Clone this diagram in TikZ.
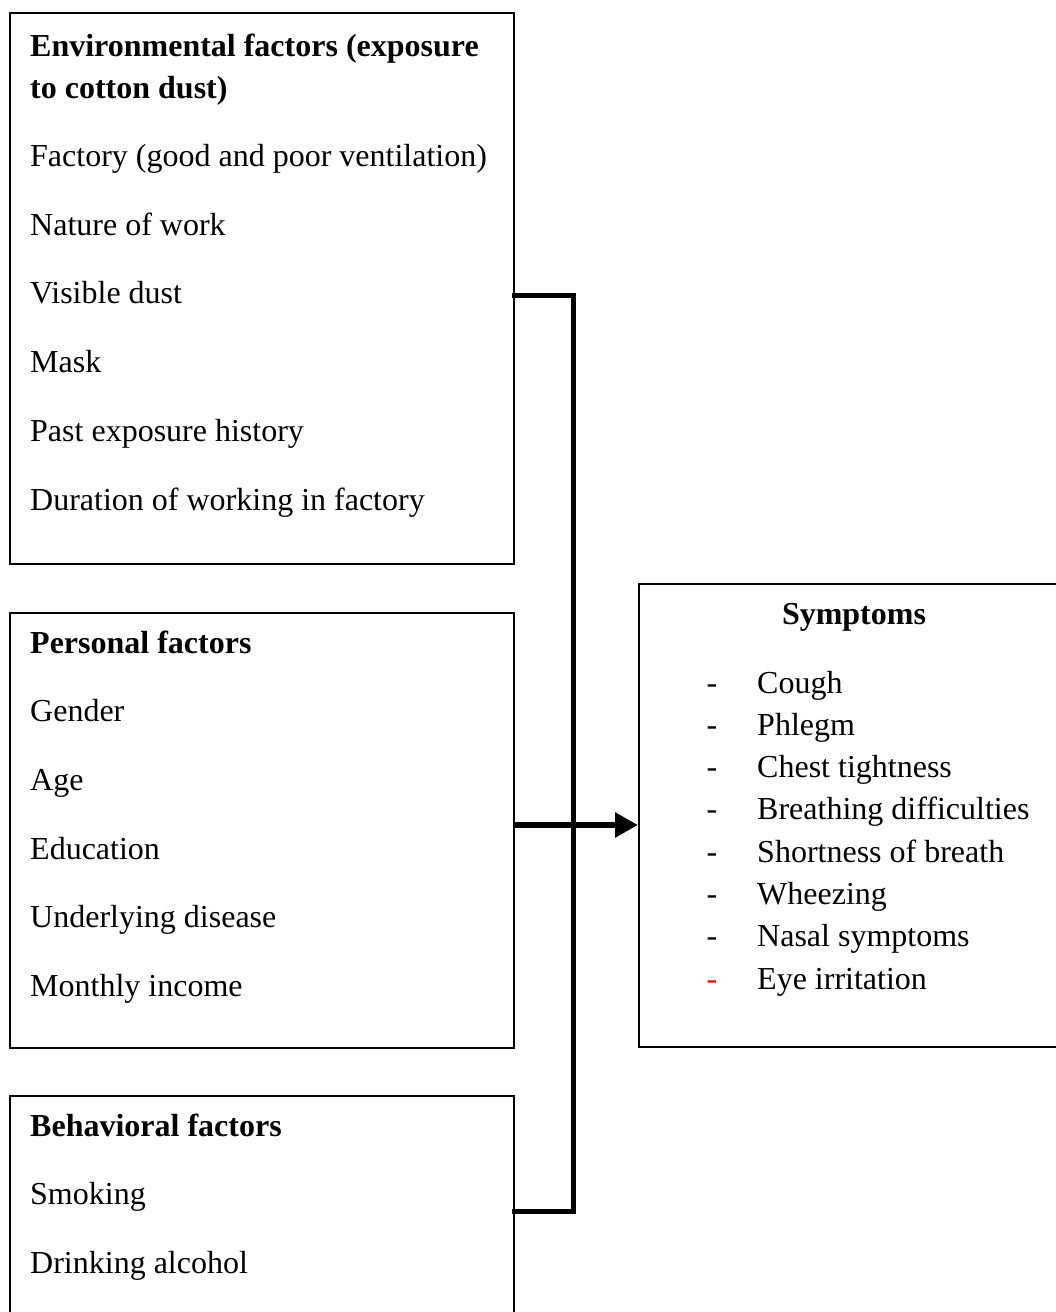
\documentclass[tikz,border=0pt]{standalone}
\usepackage{fontspec}
\setmainfont{Liberation Serif}
\usetikzlibrary{arrows.meta}
\begin{document}
\begin{tikzpicture}[x=1pt,y=-1pt,
  box/.style={draw=black,line width=1.6pt,fill=none,inner sep=0pt,anchor=north west},
  txt/.style={anchor=base west,inner sep=0pt,font=\fontsize{32}{36}\selectfont},
  btxt/.style={txt,font=\fontsize{32}{36}\selectfont\bfseries},
  conn/.style={line width=5pt,line join=miter,line cap=rect},
  dashmark/.style={anchor=base,inner sep=0pt,font=\fontsize{32}{36}\selectfont}]
\useasboundingbox (0,0) rectangle (1056,1312);
\clip (0,0) rectangle (1056,1312);
% boxes
\node[box,minimum width=504pt,minimum height=551pt] (env) at (9,12) {};
\node[box,minimum width=504pt,minimum height=435pt] (pers) at (9,612) {};
\node[box,minimum width=504pt,minimum height=300pt] (beh) at (9,1095) {};
\node[box,minimum width=460pt,minimum height=463pt] (sym) at (638,583) {};
% environmental
\node[btxt] (e0) at (30,56) {Environmental factors (exposure};
\node[btxt] (e1) at (30,98) {to cotton dust)};
\node[txt] (e2) at (30,166) {Factory (good and poor ventilation)};
\node[txt] (e3) at (30,235) {Nature of work};
\node[txt] (e4) at (30,303) {Visible dust};
\node[txt] (e5) at (30,372) {Mask};
\node[txt] (e6) at (30,441) {Past exposure history};
\node[txt] (e7) at (30,510) {Duration of working in factory};
% personal
\node[btxt] (p0) at (30,653) {Personal factors};
\node[txt] (p1) at (30,721) {Gender};
\node[txt] (p2) at (30,790) {Age};
\node[txt] (p3) at (30,859) {Education};
\node[txt] (p4) at (30,927) {Underlying disease};
\node[txt] (p5) at (30,996) {Monthly income};
% behavioral
\node[btxt] (b0) at (30,1136) {Behavioral factors};
\node[txt] (b1) at (30,1204) {Smoking};
\node[txt] (b2) at (30,1273) {Drinking alcohol};
% symptoms
\node[anchor=base,inner sep=0pt,font=\fontsize{32}{36}\selectfont\bfseries] (s0) at (854,624) {Symptoms};
\foreach \t [count=\i] in {Cough,Phlegm,Chest tightness,Breathing difficulties,Shortness of breath,Wheezing,Nasal symptoms,Eye irritation}{
  \pgfmathsetmacro{\yy}{693+(\i-1)*42.3}
  \ifnum\i=8
    \node[dashmark,text=red] (d\i) at (712,\yy) {-};
  \else
    \node[dashmark] (d\i) at (712,\yy) {-};
  \fi
  \node[txt] (s\i) at (757,\yy) {\t};
}
% connectors
\coordinate (j1) at (573,295);
\coordinate (j2) at (573,1211);
\coordinate (ja) at (573,825);
\draw[conn] (env.east |- j1) -- (j1) -- (j2) -- (beh.east |- j2);
\draw[line width=6pt,-{Triangle[length=23pt,width=24pt]}] (pers.east |- ja) -- (sym.west |- ja);
\end{tikzpicture}
\end{document}
